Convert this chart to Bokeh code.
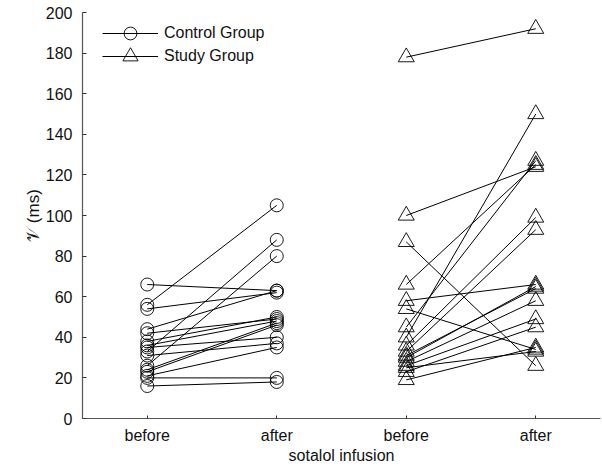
from bokeh.plotting import figure
from bokeh.models import ColumnDataSource, FixedTicker, Legend, LegendItem, Range1d
from bokeh.embed import file_html
from bokeh.resources import INLINE

# ---- data ----
x_labels = ["before", "after", "before", "after"]
y_ticks = [0, 20, 40, 60, 80, 100, 120, 140, 160, 180, 200]

control_before = [66, 56, 54, 44, 42, 38, 36, 35, 33, 31, 26, 24, 23, 21, 20, 16]
control_after = [63, 105, 62, 63, 49, 50, 48, 40, 88, 37, 80, 47, 46, 35, 20, 18]

study_before = [178, 100, 87, 66, 58, 54, 45, 40, 36, 33, 31, 30, 28, 26, 25, 23, 19]
study_after = [192, 124, 26, 125, 66, 34, 127, 150, 99, 93, 64, 65, 58, 49, 33, 45, 35]

FONT = "Liberation Sans"

p = figure(width=602, height=466, output_backend="svg", toolbar_location=None,
           x_range=Range1d(0.5, 4.5), y_range=Range1d(0, 200),
           min_border_left=82, min_border_right=2, min_border_top=12, min_border_bottom=47)
p.outline_line_color = None
p.xgrid.visible = False
p.ygrid.visible = False
p.background_fill_color = "white"

cs = ColumnDataSource(dict(x0=[1] * len(control_before), x1=[2] * len(control_before),
                           y0=control_before, y1=control_after))
ss = ColumnDataSource(dict(x0=[3] * len(study_before), x1=[4] * len(study_before),
                           y0=study_before, y1=study_after))

c_seg = p.segment("x0", "y0", "x1", "y1", source=cs, line_color="black", line_width=1)
c_m0 = p.scatter("x0", "y0", source=cs, marker="circle", size=13, fill_color=None,
                 line_color="black", line_width=0.9)
c_m1 = p.scatter("x1", "y1", source=cs, marker="circle", size=13, fill_color=None,
                 line_color="black", line_width=0.9)

s_seg = p.segment("x0", "y0", "x1", "y1", source=ss, line_color="black", line_width=1)
s_m0 = p.scatter("x0", "y0", source=ss, marker="triangle", size=16, fill_color=None,
                 line_color="black", line_width=0.9)
s_m1 = p.scatter("x1", "y1", source=ss, marker="triangle", size=16, fill_color=None,
                 line_color="black", line_width=0.9)

legend_opts = dict(border_line_color=None, background_fill_alpha=0,
                   glyph_width=56, spacing=0, padding=0,
                   margin=0, label_text_font=FONT, label_text_font_size="16px",
                   label_text_color="#111111", label_standoff=6)
leg1 = Legend(items=[LegendItem(label="Control Group", renderers=[c_seg, c_m0])],
              location=(20, 369), glyph_height=32, **legend_opts)
leg2 = Legend(items=[LegendItem(label="Study Group", renderers=[s_seg, s_m0])],
              location=(20, 343), glyph_height=38, **legend_opts)
p.add_layout(leg1)
p.add_layout(leg2)

# axes
p.xaxis.ticker = FixedTicker(ticks=[1, 2, 3, 4])
p.xaxis.major_label_overrides = {i + 1: lab for i, lab in enumerate(x_labels)}
p.yaxis.ticker = FixedTicker(ticks=y_ticks)
for ax in (p.xaxis[0], p.yaxis[0]):
    ax.axis_line_color = "#555555"
    ax.axis_line_width = 1.2
    ax.major_tick_line_color = "#333333"
    ax.major_tick_in = 4
    ax.major_tick_out = 0
    ax.minor_tick_in = 0
    ax.minor_tick_out = 0
    ax.major_label_text_font = FONT
    ax.major_label_text_font_size = "16px"
    ax.major_label_text_color = "#111111"
    ax.axis_label_text_font = FONT
    ax.axis_label_text_font_style = "normal"
    ax.axis_label_text_color = "#111111"

p.xaxis.major_tick_in = 3
p.xaxis.axis_label = "sotalol infusion"
p.xaxis.axis_label_text_font_size = "16px"
p.xaxis.major_label_standoff = 8
p.xaxis.axis_label_standoff = 0
p.yaxis.axis_label = "𝒱 (ms)"
p.yaxis.axis_label_text_font_size = "17px"
p.yaxis.major_label_standoff = 10
p.yaxis.axis_label_standoff = 0

open("out.html", "w").write(file_html(p, INLINE))
